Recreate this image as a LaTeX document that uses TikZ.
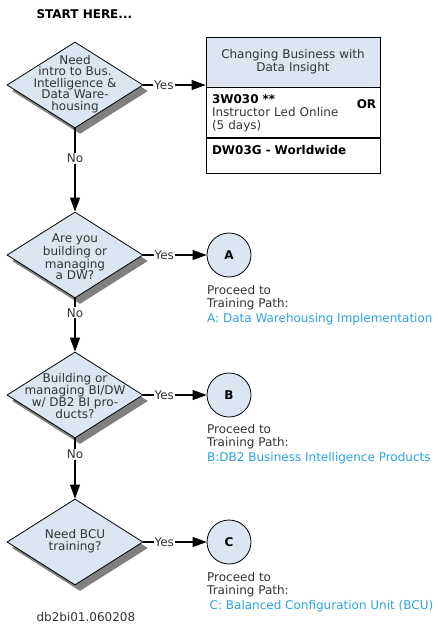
\documentclass[tikz,border=0pt]{standalone}
\usepackage{fontspec}
\setmainfont{DejaVu Sans}
\usetikzlibrary{arrows.meta,positioning,shapes.geometric,shadows}
\definecolor{dwfill}{HTML}{DCE6F2}
\definecolor{dwtext}{HTML}{333333}
\definecolor{dwlink}{HTML}{29A3E3}
\definecolor{dwshadow}{HTML}{808080}

\begin{document}
\begin{tikzpicture}[x=1pt, y=-1pt,
    every node/.style={font=\fontsize{12}{13}\selectfont, text=dwtext},
    decision/.style={diamond, draw=black, line width=0.8pt, fill=dwfill,
      minimum width=136pt, minimum height=86pt, inner sep=0pt,
      drop shadow={shadow xshift=5pt, shadow yshift=-6pt, fill=dwshadow, opacity=1}},
    qtext/.style={align=center, inner sep=0pt, font=\fontsize{12}{11.5}\selectfont},
    pathnode/.style={circle, draw=black, line width=0.8pt, fill=dwfill, minimum size=44pt,
      inner sep=0pt, text=black, font=\fontsize{12}{13}\selectfont\bfseries},
    pathtext/.style={align=left, anchor=north west, inner sep=0pt},
    course/.style={draw=black, line width=0.8pt, minimum width=174pt, text width=162pt,
      inner sep=6pt, align=left},
    flow/.style={-{Triangle[length=14pt,width=10pt]}, line width=1.2pt},
    ans/.style={fill=white, inner sep=1pt}]
  \useasboundingbox (0,0) rectangle (438,626);

  \node[anchor=west, text=black, font=\fontsize{12}{13}\selectfont\bfseries] (start) at (33,14) {START HERE...};

  % questions
  \node[decision] (q1) at (75,85) {};
  \node[qtext] at (75,84) {Need\\intro to Bus.\\Intelligence \&\\Data Ware-\\housing};
  \node[decision] (q2) at (75,255) {};
  \node[qtext] at (75,257) {Are you\\building or\\managing\\a DW?};
  \node[decision] (q3) at (75,395) {};
  \node[qtext] at (75,396) {Building or\\managing BI/DW\\w/ DB2 BI pro-\\ducts?};
  \node[decision] (q4) at (75,542) {};
  \node[qtext] at (75,541) {Need BCU\\training?};

  % course box
  \node[course, fill=dwfill, minimum height=50pt, align=center] (hdr) at (293,62)
    {Changing Business with\\Data Insight};
  \node[course, minimum height=50pt, below=0pt of hdr] (crs1)
    {\textbf{\color{black}3W030 **}\\Instructor Led Online\\(5 days)};
  \node[anchor=east, inner sep=0pt, text=black, font=\fontsize{12}{13}\selectfont\bfseries] (or)
    at ([xshift=-4pt,yshift=9pt]crs1.east) {OR};
  \node[course, minimum height=35pt, below=0pt of crs1] (crs2)
    {\textbf{\color{black}DW03G - Worldwide}\\[-1pt]\mbox{}};

  % training paths
  \node[pathnode] (pA) at (229,255) {A};
  \node[pathtext] (tA) at (207,285) {Proceed to\\Training Path:\\[2.5pt]\color{dwlink}A: Data Warehousing Implementation};
  \node[pathnode] (pB) at (229,395) {B};
  \node[pathtext] (tB) at (207,424) {Proceed to\\Training Path:\\[2.5pt]\color{dwlink}B:DB2 Business Intelligence Products};
  \node[pathnode] (pC) at (229,542) {C};
  \node[pathtext] (tC) at (207,572) {Proceed to\\Training Path:\\[2.5pt]\color{dwlink}\hspace{2.5pt}C: Balanced Configuration Unit (BCU)};

  \node[anchor=west] (docid) at (33,617) {db2bi01.060208};

  % connectors
  \draw[flow] (q1.east) -- node[ans, pos=0.33] {Yes} (hdr.west |- q1.east);
  \draw[flow] (q2.east) -- node[ans, pos=0.33] {Yes} (pA.west);
  \draw[flow] (q3.east) -- node[ans, pos=0.33] {Yes} (pB.west);
  \draw[flow] (q4.east) -- node[ans, pos=0.33] {Yes} (pC.west);
  \draw[flow] (q1.south) -- node[ans, pos=0.36] {No} (q2.north);
  \draw[flow] (q2.south) -- node[ans, pos=0.27] {No} (q3.north);
  \draw[flow] (q3.south) -- node[ans, pos=0.26] {No} (q4.north);
\end{tikzpicture}
\end{document}
